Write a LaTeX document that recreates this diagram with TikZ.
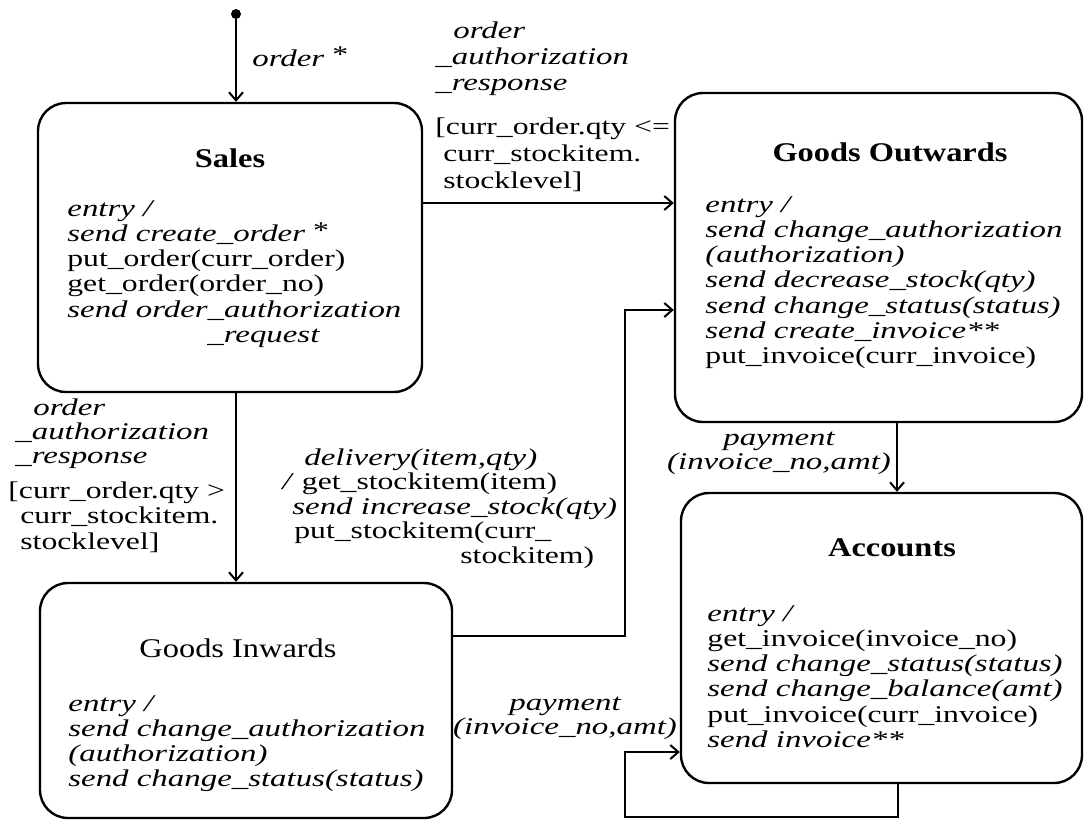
\documentclass[tikz,border=0pt]{standalone}
\usepackage{fontspec}
\setmainfont{Liberation Serif}[FakeStretch=1.32, ItalicFeatures={FakeStretch=1.37}]
\newfontfamily\titlefont{Liberation Serif}[FakeStretch=1.2]
\usetikzlibrary{arrows.meta}

\begin{document}
\begin{tikzpicture}[x=0.5pt,y=-0.5pt,
  statebox/.style={draw, line width=1.2pt, rounded corners=14pt, inner sep=0pt},
  titletext/.style={font=\titlefont\fontsize{13.5}{15}\selectfont, inner sep=0pt},
  bodytext/.style={font=\fontsize{12}{12.6}\selectfont, align=left, anchor=north west, inner sep=0pt},
  labeltext/.style={font=\fontsize{12}{#1}\selectfont, align=left, anchor=north west, inner sep=0pt},
  arr/.style={line width=1pt, -{Straight Barb[length=4pt,width=7pt,line width=1pt]}}]

\useasboundingbox[fill=white] (0,0) rectangle (1085,825);

% states
\node[statebox, minimum width=192pt, minimum height=144.5pt] (sales) at (230,247.5) {};
\node[statebox, minimum width=203.5pt, minimum height=164.5pt] (go) at (878.5,257.5) {};
\node[statebox, minimum width=200.5pt, minimum height=145pt] (acc) at (881.5,638) {};
\node[statebox, minimum width=206pt, minimum height=117.5pt] (gi) at (246,700.5) {};

% state names
\node[titletext] (salesname) at (230,158) {\bfseries Sales};
\node[titletext] (goname) at (890,152) {\bfseries Goods Outwards};
\node[titletext] (accname) at (892,548) {\bfseries Accounts};
\node[titletext] (giname) at (238,648) {Goods Inwards};

% entry actions
\node[bodytext] (salesbody) at (67,200) {%
  \textit{entry /}\\
  \textit{send create\_order} \raisebox{1.5pt}{*}\\
  put\_order(curr\_order)\\
  get\_order(order\_no)\\
  \textit{send order\_authorization}\\
  \hspace*{70pt}\textit{\_request}};

\node[bodytext] (gobody) at (705,196) {%
  \textit{entry /}\\
  \textit{send change\_authorization}\\
  \textit{(authorization)}\\
  \textit{send decrease\_stock(qty)}\\
  \textit{send change\_status(status)}\\
  \textit{send create\_invoice**}\\
  put\_invoice(curr\_invoice)};

\node[bodytext] (accbody) at (707,605) {%
  \textit{entry /}\\
  get\_invoice(invoice\_no)\\
  \textit{send change\_status(status)}\\
  \textit{send change\_balance(amt)}\\
  put\_invoice(curr\_invoice)\\
  \textit{send invoice**}};

\node[bodytext] (gibody) at (68,695) {%
  \textit{entry /}\\
  \textit{send change\_authorization}\\
  \textit{(authorization)}\\
  \textit{send change\_status(status)}};

% initial pseudo-state
\node[circle, fill=black, inner sep=0pt, minimum size=5pt] (init) at (236,14) {};

% transitions
\draw[arr] (init) -- (sales.north -| init);
\draw[arr] (sales.east |- 0,203) -- (go.west |- 0,203);
\draw[arr] (sales.south -| 236,0) -- (gi.north -| 236,0);
\draw[arr] (gi.east |- 0,636) -| (625,310) -- (go.west |- 0,310);
\draw[arr] (go.south -| 897,0) -- (acc.north -| 897,0);
\draw[arr] (acc.south -| 898,0) -- (898,817) -| (625,752) -- (acc.west |- 0,752);

% transition labels
\node[font=\fontsize{12}{14}\selectfont, anchor=west, inner sep=0pt] (ordlbl) at (252,57) {\textit{order} \raisebox{2pt}{*}};

\node[labeltext=13] (okevent) at (435,21) {%
  \hspace*{9pt}\textit{order}\\
  \textit{\_authorization}\\
  \textit{\_response}};
\node[labeltext=13.5] (okguard) at (435,117) {%
  [curr\_order.qty <=\\
  \hspace*{4pt}curr\_stockitem.\\
  \hspace*{4pt}stocklevel]};

\node[labeltext=12.2] (lowevent) at (15,398) {%
  \hspace*{9pt}\textit{order}\\
  \textit{\_authorization}\\
  \textit{\_response}};
\node[labeltext=12.8] (lowguard) at (8,481) {%
  [curr\_order.qty >\\
  \hspace*{6pt}curr\_stockitem.\\
  \hspace*{6pt}stocklevel]};

\node[labeltext=12.3] (delivlbl) at (282,448) {%
  \hspace*{11pt}\textit{delivery(item,qty)}\\
  \textit{/} get\_stockitem(item)\\
  \hspace*{5pt}\textit{send increase\_stock(qty)}\\
  \hspace*{6pt}put\_stockitem(curr\_\\
  \hspace*{89pt}stockitem)};

\node[font=\fontsize{12}{10}\selectfont\itshape, align=center, inner sep=0pt] (paylbl) at (779,453) {payment\\(invoice\_no,amt)};
\node[font=\fontsize{12}{10.5}\selectfont\itshape, align=center, inner sep=0pt] (loopLbl) at (565,718) {payment\\(invoice\_no,amt)};

\end{tikzpicture}
\end{document}
